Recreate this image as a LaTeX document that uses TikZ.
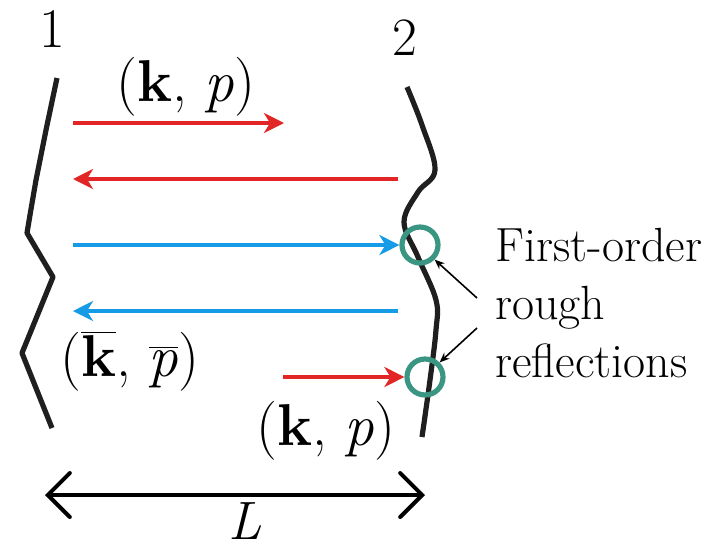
\documentclass[tikz,border=0pt]{standalone}
\usetikzlibrary{arrows.meta}
\definecolor{wavered}{RGB}{226,38,38}
\definecolor{waveblue}{RGB}{22,156,230}
\definecolor{spotteal}{RGB}{58,150,130}

\begin{document}
\begin{tikzpicture}[x=0.5pt,y=-0.5pt,
    wall/.style={line width=2.6pt, black!88, line join=round},
    redwave/.style={wavered, line width=2pt, -{Stealth[length=10pt,width=10pt,inset=3pt]}},
    bluewave/.style={waveblue, line width=2pt, -{Stealth[length=10pt,width=10pt,inset=3pt]}},
    spot/.style={circle, draw=spotteal, line width=2.6pt, inner sep=0pt, minimum size=18pt},
    lbl/.style={inner sep=0pt, font=\fontsize{29.5}{32}\selectfont},
    pointer/.style={line width=0.8pt, -{Stealth[length=5pt,width=4pt]}}]
    \useasboundingbox (0,0) rectangle (722,548);
    % Walls
    \node[inner sep=0pt, font=\fontsize{28}{30}\selectfont, anchor=base] (one) at (52,47) {1};
    \node[inner sep=0pt, font=\fontsize{27}{30}\selectfont, anchor=base] (two) at (405,55) {2};
    \draw[wall] (57,78) -- (46,130) -- (36,180) -- (30,215) -- (27,233) -- (53,277) -- (22,353) -- (52,428);
    \draw[wall] plot[smooth, tension=0.6] coordinates {(407,87) (422,125) (435,170) (418,192) (404,222) (418,257) (436,300) (436,330) (430,380) (422,437)};
    % Reflection spots
    \node[spot] (s1) at (420,245) {};
    \node[spot] (s2) at (425,377) {};
    % Waves
    \coordinate (r1a) at (73,123);  \coordinate (r1b) at (284,123);
    \coordinate (r2a) at (398,179); \coordinate (r2b) at (73,179);
    \coordinate (b1a) at (73,245);
    \coordinate (b2a) at (398,311); \coordinate (b2b) at (73,311);
    \coordinate (r3a) at (283,377);
    \draw[redwave] (r1a) -- (r1b);
    \draw[redwave] (r2a) -- (r2b);
    \draw[bluewave] (b1a) -- (s1.west);
    \draw[bluewave] (b2a) -- (b2b);
    \draw[redwave] (r3a) -- (s2.west);
    % Labels
    \node[lbl, anchor=base west] (kp1) at (116,101) {(\textbf{k}, \textit{p})};
    \node[lbl, anchor=base west] (kpbar) at (60,376) {($\overline{\hbox{\textbf{k}}}$, $\overline{\hbox{\textit{p}}}$)};
    \node[lbl, anchor=base west] (kp2) at (256,445) {(\textbf{k}, \textit{p})};
    \node[inner sep=0pt, align=left, anchor=north west, font=\fontsize{24}{29}\selectfont] (note) at (495,228) {First-order\\rough\\reflections};
    \coordinate (p1) at (477,298); \coordinate (p2) at (477,328);
    \draw[pointer] (p1) -- (s1.south east);
    \draw[pointer] (p2) -- (s2.north east);
    % Gap
    \coordinate (g1) at (45,495); \coordinate (g2) at (425,495);
    \draw[line width=2pt, line cap=round, {Straight Barb[length=11pt,width=22pt,line cap=round]}-{Straight Barb[length=11pt,width=22pt,line cap=round]}] (g1) -- (g2);
    \node[inner sep=0pt, font=\fontsize{27}{30}\selectfont, anchor=base] (len) at (245,539) {\textit{L}};
\end{tikzpicture}
\end{document}
